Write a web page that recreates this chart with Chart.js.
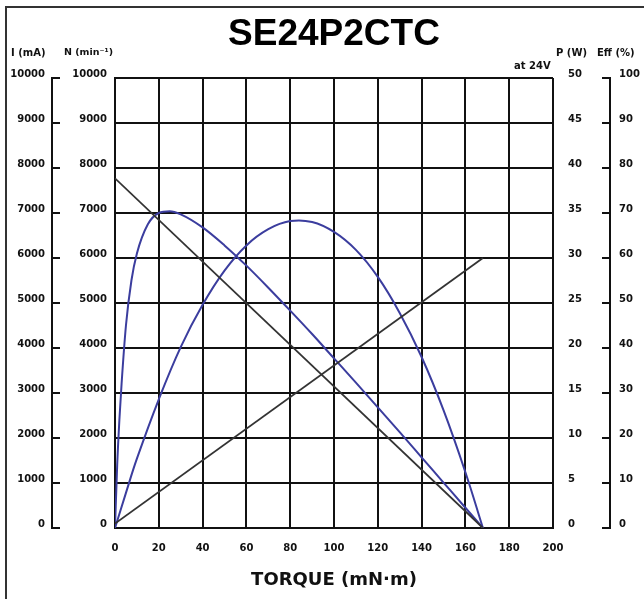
<!DOCTYPE html>
<html><head><meta charset="utf-8">
<script src="https://cdn.jsdelivr.net/npm/chart.js@4.4.1/dist/chart.umd.min.js"></script>
<style>html,body{margin:0;padding:0;background:#fff;}</style>
</head><body>
<canvas id="c" width="644" height="599"></canvas>
<script>
const chartTitle = 'SE24P2CTC';
const xTitle = 'TORQUE (mN·m)';
const leftTicks = [0,1000,2000,3000,4000,5000,6000,7000,8000,9000,10000];
const powerTicks = [0,5,10,15,20,25,30,35,40,45,50];
const effTicks = [0,10,20,30,40,50,60,70,80,90,100];

// curves
const torque     = [0,1,2,3,5,7.5,10,15,20,25,30,40,50,60,70,80,90,100,110,120,130,140,150,160,168];
const efficiency = [0,14,24,32,45,55,61,67.5,70,70.4,69.7,66.8,62.8,58.3,53.4,48.3,43.1,37.7,32.3,26.8,21.3,15.7,10.1,4.5,0];
const powerTorque = [0,5,10,20,30,40,50,60,70,80,90,100,110,120,130,140,150,160,168];
const power       = [0,3.9,7.7,14.3,20.1,24.8,28.6,31.4,33.2,34.1,34.0,32.9,30.9,27.9,23.9,19.0,13.1,6.2,0];
const lineTorque = [0,168];
const speed      = [7770,0];
const current    = [100,6000];

const pts = (xs, ys) => xs.map((x,i)=>({x, y: ys[i]}));
const TXT = '#111';
const tickFont = {family:'DejaVu Sans', size:10, weight:'bold'};

const extraAxes = {
  id:'extraAxes',
  afterDraw(chart){
    const ctx = chart.ctx;
    const yI = chart.scales.yI, yP = chart.scales.yP, yE = chart.scales.yE, x = chart.scales.x;
    ctx.save();
    // frame
    ctx.strokeStyle = '#333'; ctx.lineWidth = 2;
    ctx.strokeRect(6, 7, 700, 700);
    // title
    ctx.fillStyle = '#000';
    ctx.font = 'bold 37px "Liberation Sans"';
    ctx.textAlign = 'center'; ctx.textBaseline = 'alphabetic';
    ctx.fillText(chartTitle, (x.left + x.right)/2, 45);
    // I bracket axis
    ctx.strokeStyle = '#111'; ctx.lineWidth = 2; ctx.lineCap = 'square';
    const xI = 52;
    ctx.beginPath();
    ctx.moveTo(xI, yI.getPixelForValue(leftTicks[0]));
    ctx.lineTo(xI, yI.getPixelForValue(leftTicks[leftTicks.length-1]));
    leftTicks.forEach(v=>{const y=yI.getPixelForValue(v); ctx.moveTo(xI,y); ctx.lineTo(xI+7,y);});
    ctx.stroke();
    // Eff bracket axis
    const xE = 610;
    ctx.beginPath();
    ctx.moveTo(xE, yE.getPixelForValue(effTicks[0]));
    ctx.lineTo(xE, yE.getPixelForValue(effTicks[effTicks.length-1]));
    effTicks.forEach(v=>{const y=yE.getPixelForValue(v); ctx.moveTo(xE,y); ctx.lineTo(xE-7,y);});
    ctx.stroke();
    // tick labels
    ctx.fillStyle = TXT;
    ctx.font = 'bold 10px "DejaVu Sans"';
    ctx.textBaseline = 'middle';
    ctx.textAlign = 'right';
    leftTicks.forEach(v=>ctx.fillText(String(v), 45, yI.getPixelForValue(v)-4));
    ctx.textAlign = 'left';
    powerTicks.forEach(v=>ctx.fillText(String(v), 568, yP.getPixelForValue(v)-4));
    effTicks.forEach(v=>ctx.fillText(String(v), 619, yE.getPixelForValue(v)-4));
    // axis titles
    ctx.fillText('I (mA)', 11, 53);
    ctx.font = 'bold 9.5px "DejaVu Sans"';
    ctx.fillText('N (min⁻¹)', 64, 53);
    ctx.font = 'bold 10px "DejaVu Sans"';
    ctx.fillText('P (W)', 556, 53);
    ctx.fillText('Eff (%)', 597, 53);
    ctx.fillText('at 24V', 514, 66);
    ctx.restore();
  }
};

new Chart(document.getElementById('c'), {
  type:'scatter',
  data:{datasets:[
    {label:'N', data:pts(lineTorque,speed), yAxisID:'yN', showLine:true, borderColor:'#333', borderWidth:1.8, pointRadius:0},
    {label:'I', data:pts(lineTorque,current), yAxisID:'yI', showLine:true, borderColor:'#333', borderWidth:1.8, pointRadius:0},
    {label:'P', data:pts(powerTorque,power), yAxisID:'yP', showLine:true, borderColor:'#3b3d9e', borderWidth:2, pointRadius:0, tension:0.4},
    {label:'Eff', data:pts(torque,efficiency), yAxisID:'yE', showLine:true, borderColor:'#3b3d9e', borderWidth:2, pointRadius:0, cubicInterpolationMode:'monotone'}
  ]},
  options:{
    responsive:false, animation:false, devicePixelRatio:1,
    layout:{padding:{left:0, right:91, top:78, bottom:0}},
    plugins:{legend:{display:false}, tooltip:{enabled:false}, title:{display:false}},
    scales:{
      x:{type:'linear', position:'bottom', min:0, max:200,
         afterFit(s){s.height=71;},
         ticks:{stepSize:20, font:tickFont, color:TXT, padding:14, maxRotation:0, autoSkip:false, callback:v=>String(v)},
         grid:{color:'#111', lineWidth:2, drawTicks:false}, border:{color:'#111', width:2},
         title:{display:true, text:xTitle, color:'#111', font:{family:'DejaVu Sans', size:18, weight:'bold'}, padding:{top:0, bottom:8}}},
      yN:{type:'linear', position:'left', min:0, max:10000,
         afterFit(s){s.width=115;},
         ticks:{stepSize:1000, font:tickFont, color:TXT, padding:8, labelOffset:-4, callback:v=>String(v)},
         grid:{color:'#111', lineWidth:2, drawTicks:false}, border:{color:'#111', width:2}},
      yI:{type:'linear', position:'left', min:0, max:10000, display:false},
      yP:{type:'linear', position:'right', min:0, max:50, display:false},
      yE:{type:'linear', position:'right', min:0, max:100, display:false}
    }
  },
  plugins:[extraAxes]
});
</script>
</body></html>
